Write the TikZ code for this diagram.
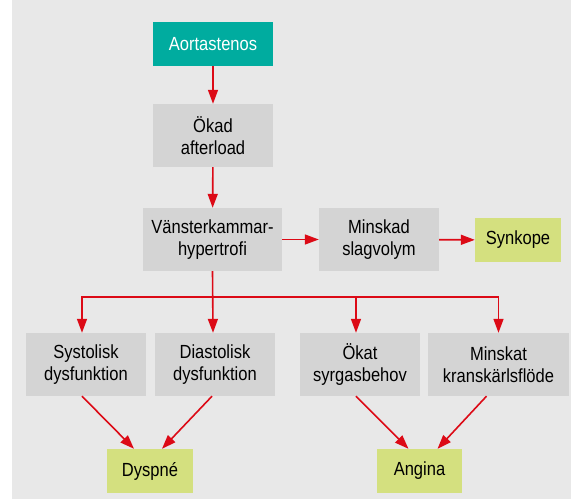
\documentclass[tikz,border=0pt]{standalone}
\usepackage{fontspec}
\setmainfont{Liberation Sans}[FakeStretch=0.87]
\usepackage{xcolor}
\usetikzlibrary{arrows.meta}
\definecolor{bggray}{HTML}{E8E8E8}
\definecolor{boxgray}{HTML}{D4D4D4}
\definecolor{teal}{HTML}{00AC9F}
\definecolor{lime}{HTML}{D4E07F}
\definecolor{arrred}{HTML}{DC0A16}

\begin{document}
\begin{tikzpicture}[x=1pt,y=-1pt,
  font=\fontsize{19}{22}\selectfont,
  box/.style={rectangle,fill=boxgray,inner sep=0pt,align=center,
    minimum width=120pt,minimum height=63pt},
  res/.style={rectangle,fill=lime,inner sep=0pt,
    minimum width=86pt,minimum height=44pt},
  arr/.style={draw=arrred,line width=1.6pt,-{Triangle[length=14pt,width=10pt]}}]
\useasboundingbox (0,0) rectangle (571,503);
\fill[bggray] (12,0) rectangle (571,499);
%\draw[help lines] (0,0) grid (571,503);
\path (0,0)
(213,44) node(aorta) [rectangle,fill=teal,text=white,inner sep=0pt,
  minimum width=120pt,minimum height=44pt] {Aortastenos}
(213,135.5) node(okad) [box] {Ökad\\afterload}
(212.5,239.5) node(vkh) [box,minimum width=139pt] {Vänsterkammar-\\hypertrofi}
(379,239.5) node(minsk) [box] {Minskad\\slagvolym}
(518,240) node(synk) [res] {Synkope}
(86,364.5) node(syst) [box] {Systolisk\\dysfunktion}
(215,364.5) node(diast) [box] {Diastolisk\\dysfunktion}
(360,364.5) node(okat) [box] {Ökat\\syrgasbehov}
(498.5,364.5) node(minskat) [box,minimum width=141pt] {Minskat\\kranskärlsflöde}
(150,471) node(dysp) [res] {Dyspné}
(419.5,471) node(ang) [res,minimum width=85pt] {Angina};
\coordinate (bar) at (212.5,297);
\draw[arr] (aorta) -- (okad);
\draw[arr] (okad) -- (vkh);
\draw[arr] (vkh) -- (minsk);
\draw[arr] (minsk) -- (synk);
\draw[arr] (vkh.south) -- ([xshift=-2]diast.north);
\draw[arr] (bar) -| ([xshift=-4]syst.north);
\draw[arr] (bar) -| ([xshift=-4]okat.north);
\draw[arr] (bar) -| (minskat.north);
\draw[arr] ([xshift=-4]syst.south) -- ([xshift=-16]dysp.north);
\draw[arr] ([xshift=-3]diast.south) -- ([xshift=12]dysp.north);
\draw[arr] ([xshift=-4]okat.south) -- ([xshift=-11]ang.north);
\draw[arr] ([xshift=-12]minskat.south) -- ([xshift=18]ang.north);
\end{tikzpicture}
\end{document}
